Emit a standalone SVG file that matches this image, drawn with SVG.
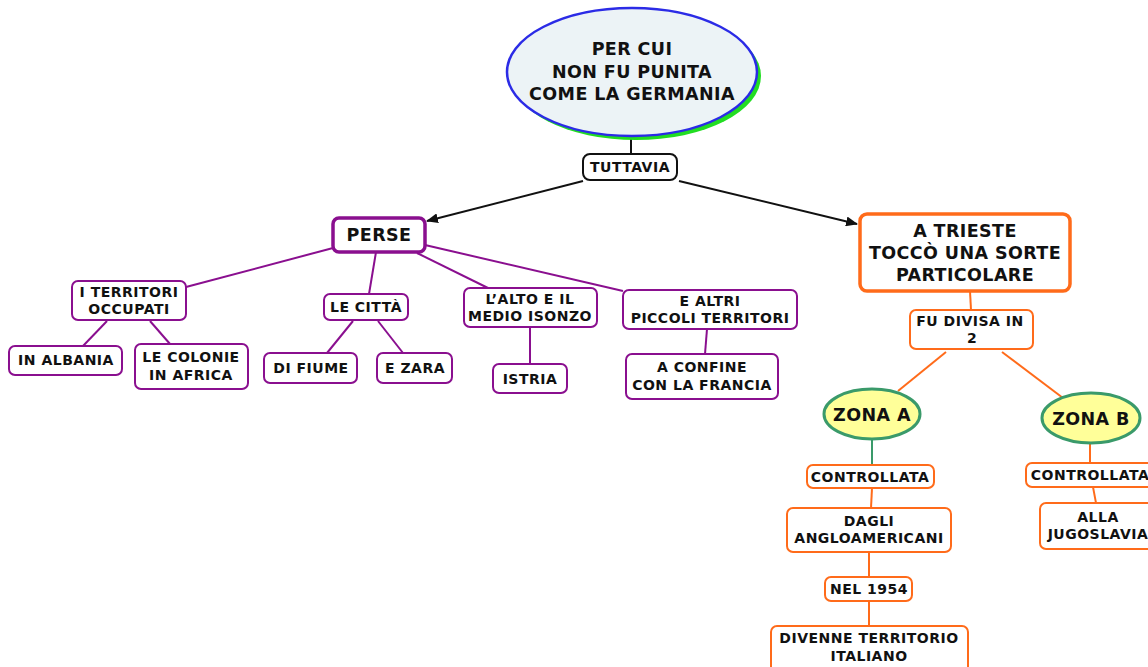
<svg xmlns="http://www.w3.org/2000/svg" width="1148" height="667" viewBox="0 0 1148 667">
<defs>
<style>
text{font-family:"DejaVu Sans",Verdana,sans-serif;font-weight:bold;fill:#111;text-anchor:middle}
.t13{font-size:14px;letter-spacing:0.5px}
.t17{font-size:17.5px;letter-spacing:0.4px}
.p{fill:#fff;stroke:#8a0f8f;stroke-width:2}
.o{fill:#fff;stroke:#ff6b1a;stroke-width:2}
.pl{stroke:#8a0f8f;stroke-width:2;fill:none}
.ol{stroke:#ff6b1a;stroke-width:2;fill:none}
</style>
<marker id="ah" viewBox="0 0 12 10" refX="11" refY="5" markerWidth="12" markerHeight="10" markerUnits="userSpaceOnUse" orient="auto">
<path d="M0,0 L12,5 L0,10 Z" fill="#111"/>
</marker>
</defs>
<rect width="1148" height="667" fill="#fff"/>
<g id="connectors">
<line x1="631" y1="136" x2="631" y2="154" stroke="#111" stroke-width="2"/>
<line x1="583" y1="181" x2="427" y2="221" stroke="#111" stroke-width="2" marker-end="url(#ah)"/>
<line x1="679" y1="181" x2="857" y2="224" stroke="#111" stroke-width="2" marker-end="url(#ah)"/>
<line class="pl" x1="333" y1="248" x2="186" y2="287"/>
<line class="pl" x1="376" y1="252" x2="369" y2="294"/>
<line class="pl" x1="417" y1="253" x2="488" y2="288"/>
<line class="pl" x1="425" y1="245" x2="623" y2="291"/>
<line class="pl" x1="107" y1="321" x2="83" y2="346"/>
<line class="pl" x1="150" y1="321" x2="170" y2="344"/>
<line class="pl" x1="353" y1="321" x2="327" y2="353"/>
<line class="pl" x1="378" y1="321" x2="403" y2="353"/>
<line class="pl" x1="530" y1="327" x2="530" y2="364"/>
<line class="pl" x1="707" y1="329" x2="705" y2="354"/>
<line class="ol" x1="970" y1="291" x2="971" y2="310"/>
<line class="ol" x1="946" y1="352" x2="898" y2="391"/>
<line class="ol" x1="1002" y1="352" x2="1063" y2="398" stroke-width="3"/>
<line x1="872" y1="440" x2="872" y2="465" stroke="#3a9a6a" stroke-width="2"/>
<line class="ol" x1="872" y1="488" x2="871" y2="508"/>
<line class="ol" x1="869" y1="553" x2="869" y2="577"/>
<line class="ol" x1="869" y1="601" x2="869" y2="626"/>
<line class="ol" x1="1090" y1="444" x2="1090" y2="463"/>
<line class="ol" x1="1093" y1="487" x2="1096" y2="503"/>
</g>
<g id="n-root">
<ellipse cx="636" cy="76" rx="125" ry="64" fill="#22dd22"/>
<ellipse cx="632" cy="72" rx="125" ry="64" fill="#ecf3f6" stroke="#2b2be6" stroke-width="2.5"/>
<text class="t17" x="632" y="55">PER CUI</text>
<text class="t17" x="632" y="78">NON FU PUNITA</text>
<text class="t17" x="632" y="100">COME LA GERMANIA</text>
</g>
<g id="n-tuttavia">
<rect x="583" y="154" width="94" height="26" rx="7" fill="#fff" stroke="#111" stroke-width="2"/>
<text class="t13" x="630" y="172">TUTTAVIA</text>
</g>
<g id="n-perse">
<rect x="333" y="218" width="92" height="34" rx="6" fill="#fff" stroke="#8a0f8f" stroke-width="3.5"/>
<text class="t17" x="379" y="241">PERSE</text>
</g>
<g id="n-territori">
<rect class="p" x="72" y="281" width="114" height="39" rx="6"/>
<text class="t13" x="129" y="297">I TERRITORI</text>
<text class="t13" x="129" y="314">OCCUPATI</text>
</g>
<g id="n-albania">
<rect class="p" x="9" y="346" width="113" height="29" rx="6"/>
<text class="t13" x="66" y="365">IN ALBANIA</text>
</g>
<g id="n-colonie">
<rect class="p" x="135" y="344" width="113" height="45" rx="6"/>
<text class="t13" x="191" y="362">LE COLONIE</text>
<text class="t13" x="191" y="380">IN AFRICA</text>
</g>
<g id="n-citta">
<rect class="p" x="324" y="294" width="84" height="26" rx="6"/>
<text class="t13" x="366" y="312">LE CITTÀ</text>
</g>
<g id="n-fiume">
<rect class="p" x="264" y="353" width="93" height="30" rx="6"/>
<text class="t13" x="311" y="373">DI FIUME</text>
</g>
<g id="n-zara">
<rect class="p" x="377" y="353" width="75" height="30" rx="6"/>
<text class="t13" x="415" y="373">E ZARA</text>
</g>
<g id="n-isonzo">
<rect class="p" x="464" y="288" width="133" height="39" rx="6"/>
<text class="t13" x="530" y="304">L’ALTO E IL</text>
<text class="t13" x="530" y="321">MEDIO ISONZO</text>
</g>
<g id="n-istria">
<rect class="p" x="493" y="364" width="74" height="29" rx="6"/>
<text class="t13" x="530" y="384">ISTRIA</text>
</g>
<g id="n-altri">
<rect class="p" x="623" y="290" width="174" height="39" rx="6"/>
<text class="t13" x="710" y="306">E ALTRI</text>
<text class="t13" x="710" y="323">PICCOLI TERRITORI</text>
</g>
<g id="n-confine">
<rect class="p" x="626" y="354" width="152" height="45" rx="6"/>
<text class="t13" x="702" y="372">A CONFINE</text>
<text class="t13" x="702" y="390">CON LA FRANCIA</text>
</g>
<g id="n-trieste">
<rect x="860" y="214" width="210" height="77" rx="7" fill="#fff" stroke="#ff6b1a" stroke-width="3.5"/>
<text class="t17" x="965" y="237">A TRIESTE</text>
<text class="t17" x="965" y="259">TOCCÒ UNA SORTE</text>
<text class="t17" x="965" y="281">PARTICOLARE</text>
</g>
<g id="n-divisa">
<rect class="o" x="910" y="310" width="123" height="39" rx="6"/>
<text class="t13" x="970" y="326">FU DIVISA IN</text>
<text class="t13" x="972" y="343">2</text>
</g>
<g id="n-zonaa">
<ellipse cx="872" cy="414" rx="48" ry="25" fill="#ffff99" stroke="#3a9a6a" stroke-width="3"/>
<text class="t17" x="872" y="421">ZONA A</text>
</g>
<g id="n-zonab">
<ellipse cx="1091" cy="418" rx="49" ry="25" fill="#ffff99" stroke="#3a9a6a" stroke-width="3"/>
<text class="t17" x="1091" y="425">ZONA B</text>
</g>
<g id="n-contra">
<rect class="o" x="807" y="465" width="127" height="23" rx="6"/>
<text class="t13" x="870" y="482">CONTROLLATA</text>
</g>
<g id="n-anglo">
<rect class="o" x="787" y="508" width="164" height="44" rx="6"/>
<text class="t13" x="869" y="526">DAGLI</text>
<text class="t13" x="869" y="543">ANGLOAMERICANI</text>
</g>
<g id="n-1954">
<rect class="o" x="825" y="577" width="87" height="24" rx="6"/>
<text class="t13" x="869" y="594">NEL 1954</text>
</g>
<g id="n-divenne">
<rect class="o" x="771" y="626" width="197" height="50" rx="6"/>
<text class="t13" x="869" y="643">DIVENNE TERRITORIO</text>
<text class="t13" x="869" y="661">ITALIANO</text>
</g>
<g id="n-contrb">
<rect class="o" x="1026" y="463" width="130" height="24" rx="6"/>
<text class="t13" x="1090" y="480">CONTROLLATA</text>
</g>
<g id="n-jugo">
<rect class="o" x="1040" y="503" width="116" height="46" rx="6"/>
<text class="t13" x="1098" y="522">ALLA</text>
<text class="t13" x="1098" y="539">JUGOSLAVIA</text>
</g>
</svg>
